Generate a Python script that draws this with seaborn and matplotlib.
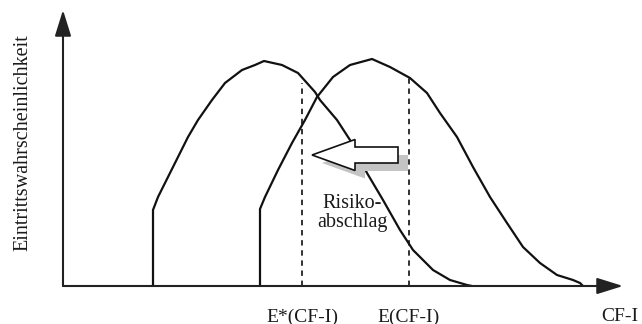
import numpy as np
import pandas as pd
import seaborn as sns
import matplotlib.pyplot as plt

# values (x: CF-I, y: probability, arbitrary units)
x_sure = [90, 90, 95, 105, 115, 125, 135, 149, 162, 179, 192, 201, 219, 235, 252, 257,
          274, 287, 304, 320, 337, 350, 370, 387, 404, 409]
y_sure = [0, 76, 89, 109, 129, 149, 166, 186, 203, 216, 221, 225, 221, 213, 194, 186,
          166, 146, 113, 86, 56, 36, 16, 6, 1, 0]
x_risky = [197, 197, 202, 215, 229, 242, 254, 270, 287, 309, 327, 347, 364, 377, 394,
           410, 427, 444, 460, 477, 494, 510, 517, 520]
y_risky = [0, 77, 89, 116, 143, 166, 189, 209, 221, 227, 219, 208, 193, 173, 149,
           119, 89, 63, 39, 23, 11, 6, 3, 0]

expected = [239, 346]          # E*(CF-I), E(CF-I)
expected_top = [203, 208]
tick_pos = [239, 346, 557]
tick_labels = ['E*(CF-I)', 'E(CF-I)', 'CF-I']

df = pd.concat([
    pd.DataFrame({'x': x_sure, 'y': y_sure, 'kurve': 'sicher'}),
    pd.DataFrame({'x': x_risky, 'y': y_risky, 'kurve': 'riskant'}),
])

sns.set_style('white')
plt.rcParams['font.family'] = ['Liberation Serif', 'DejaVu Serif']

fig = plt.figure(figsize=(6.42, 3.24), dpi=100)
ax = fig.add_axes([63 / 642, 38 / 324, 560 / 642, 276 / 324])

# the two distributions
sns.lineplot(data=df, x='x', y='y', hue='kurve', palette={'sicher': '#111111', 'riskant': '#111111'},
             estimator=None, sort=False, legend=False, lw=1.6, ax=ax, zorder=2)

# expected values
ax.vlines(expected, 0, expected_top, colors='#222222', lw=1.3,
          linestyles=(0, (3, 2.6)), zorder=1)

# risk discount arrow with shadow
a_start, a_end, a_y = 335, 249, 131
ax.arrow(a_start + 10, a_y - 8, a_end - a_start, 0, width=16,
         head_width=31, head_length=43, length_includes_head=True,
         fc='#c4c4c4', ec='none', zorder=3)
ax.arrow(a_start, a_y, a_end - a_start, 0, width=16,
         head_width=31, head_length=43, length_includes_head=True,
         fc='white', ec='#111111', lw=1.2, zorder=4)

ax.text(289, 73, 'Risiko-\nabschlag', ha='center', va='center', fontsize=14.5,
        linespacing=1.0, color='#1a1a1a', zorder=5)

ax.set_xlim(0, 560)
ax.set_ylim(0, 276)
ax.set_xticks(tick_pos)
ax.set_xticklabels(tick_labels, fontsize=14, color='#1a1a1a')
ax.set_yticks([])
ax.tick_params(axis='x', length=0, pad=16)
ax.set_xlabel('')
ax.set_ylabel('Eintrittswahrscheinlichkeit', fontsize=14.5, color='#1a1a1a')
ax.yaxis.set_label_coords(-0.055, 0.52)
for s in ax.spines.values():
    s.set_visible(False)

# axes with arrow heads
arr = dict(arrowstyle='-|>,head_length=0.8,head_width=0.25', lw=1.5, color='#222222',
           shrinkA=0, shrinkB=0, mutation_scale=20)
ax.annotate('', xy=(1, 0), xytext=(0, 0), xycoords='axes fraction', arrowprops=arr, annotation_clip=False)
ax.annotate('', xy=(0, 1), xytext=(0, 0), xycoords='axes fraction', arrowprops=arr, annotation_clip=False)

plt.savefig('out.png', dpi=100)
